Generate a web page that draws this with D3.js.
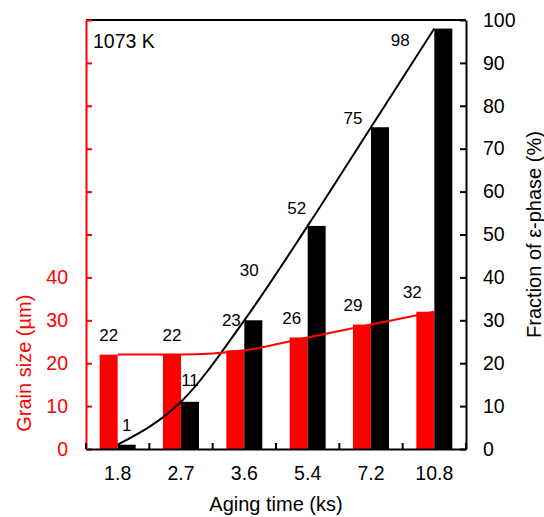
<!DOCTYPE html>
<html>
<head>
<meta charset="utf-8">
<script src="https://cdn.jsdelivr.net/npm/d3@7"></script>
<style>
  body { margin: 0; background: #fff; }
  svg { display: block; }
  text { font-family: "Liberation Sans", Arial, Helvetica, sans-serif; }
</style>
</head>
<body>
<svg id="chart" width="544" height="517"></svg>
<script>
// Aging time categories (ks)
const agingTimes = ["1.8", "2.7", "3.6", "5.4", "7.2", "10.8"];
// Grain size (µm), left axis
const grainSize = [22, 22, 23, 26, 29, 32];
// Fraction of ε-phase (%), right axis
const epsilonFraction = [1, 11, 30, 52, 75, 98];

// Axis ticks
const grainTicks = [0, 10, 20, 30, 40, 50, 60, 70, 80, 90, 100];
const grainTickLabels = [0, 10, 20, 30, 40];
const fractionTicks = [0, 10, 20, 30, 40, 50, 60, 70, 80, 90, 100];

// Label nudges [dx, dy] from bar centre / bar top, keeping labels clear of the curves
const grainLabelShift = [[0, -20], [0, -20], [-4, -30], [-7, -20], [-9, -20], [-13, -20]];
const fractionLabelShift = [[0, -20], [0, -22], [-4, -50], [-20, -18], [-27, -9], [-43, 11]];

const RED = "#ff0000";
const BLACK = "#000000";
const plot = { left: 86, right: 466, top: 20, bottom: 449 };

const svg = d3.select("#chart");

const x = d3.scaleBand().domain(agingTimes).range([plot.left, plot.right]);
const sub = d3.scaleBand().domain(["grain", "fraction"])
  .range([0, x.bandwidth()]).paddingInner(0).paddingOuter(0.76);
const y = d3.scaleLinear().domain([0, 100]).range([plot.bottom, plot.top]);

const center = d => x(d) + x.bandwidth() / 2;

const rows = agingTimes.map((t, i) => ({ t, g: grainSize[i], f: epsilonFraction[i], i }));

// Frame top
svg.append("line")
  .attr("x1", plot.left).attr("x2", plot.right)
  .attr("y1", plot.top).attr("y2", plot.top)
  .attr("stroke", BLACK).attr("stroke-width", 2);

// Bars
svg.append("g").selectAll("rect").data(rows).join("rect")
  .attr("x", d => x(d.t) + sub("grain"))
  .attr("width", sub.bandwidth())
  .attr("y", d => y(d.g))
  .attr("height", d => y(0) - y(d.g))
  .attr("fill", RED);

svg.append("g").selectAll("rect").data(rows).join("rect")
  .attr("x", d => x(d.t) + sub("fraction"))
  .attr("width", sub.bandwidth())
  .attr("y", d => y(d.f))
  .attr("height", d => y(0) - y(d.f))
  .attr("fill", BLACK);

// Trend curves
const fracLine = d3.line().x(d => center(d.t)).y(d => y(d.f)).curve(d3.curveMonotoneX);
const grainLine = d3.line().x(d => center(d.t)).y(d => y(d.g)).curve(d3.curveMonotoneX);

svg.append("path").datum(rows).attr("d", fracLine)
  .attr("fill", "none").attr("stroke", BLACK).attr("stroke-width", 2);
svg.append("path").datum(rows).attr("d", grainLine)
  .attr("fill", "none").attr("stroke", RED).attr("stroke-width", 2);

// Value labels
const labelSize = 17;
svg.append("g").selectAll("text").data(rows).join("text")
  .attr("x", d => x(d.t) + sub("grain") + sub.bandwidth() / 2 + grainLabelShift[d.i][0])
  .attr("y", d => y(d.g) + grainLabelShift[d.i][1])
  .attr("dy", "0.36em")
  .attr("text-anchor", "middle")
  .attr("font-size", labelSize)
  .attr("fill", BLACK)
  .text(d => d.g);

svg.append("g").selectAll("text").data(rows).join("text")
  .attr("x", d => x(d.t) + sub("fraction") + sub.bandwidth() / 2 + fractionLabelShift[d.i][0])
  .attr("y", d => y(d.f) + fractionLabelShift[d.i][1])
  .attr("dy", "0.36em")
  .attr("text-anchor", "middle")
  .attr("font-size", labelSize)
  .attr("fill", BLACK)
  .text(d => d.f);

// Temperature note
svg.append("text")
  .attr("x", plot.left + 7).attr("y", 41).attr("dy", "0.36em")
  .attr("font-size", 19.5).attr("fill", BLACK)
  .text("1073 K");

const tickFont = 19.5;

// Left axis: grain size
const leftAxis = svg.append("g")
  .attr("transform", `translate(${plot.left},0)`)
  .call(d3.axisLeft(y).tickValues(grainTicks)
    .tickSizeInner(-6).tickSizeOuter(0).tickPadding(18)
    .tickFormat(d => grainTickLabels.includes(d) ? d : ""));
leftAxis.selectAll("path, line").attr("stroke", RED).attr("stroke-width", 2);
leftAxis.selectAll("text").attr("fill", RED).attr("font-size", tickFont)
  .attr("font-family", null);

// Right axis: ε-phase fraction
const rightAxis = svg.append("g")
  .attr("transform", `translate(${plot.right},0)`)
  .call(d3.axisRight(y).tickValues(fractionTicks)
    .tickSizeInner(-6).tickSizeOuter(0).tickPadding(17));
rightAxis.selectAll("path, line").attr("stroke", BLACK).attr("stroke-width", 2);
rightAxis.selectAll("text").attr("fill", BLACK).attr("font-size", tickFont)
  .attr("font-family", null);

// Bottom axis: aging time
const bottomAxis = svg.append("g")
  .attr("transform", `translate(0,${plot.bottom})`)
  .call(d3.axisBottom(x).tickSize(0).tickPadding(17));
bottomAxis.select(".domain").attr("stroke", BLACK).attr("stroke-width", 2);
bottomAxis.selectAll("text").attr("fill", BLACK).attr("font-size", tickFont)
  .attr("font-family", null);

// Category separators on the bottom axis
const edges = agingTimes.map(t => x(t)).concat([x.range()[1]]);
svg.append("g").selectAll("line").data(edges).join("line")
  .attr("x1", d => d).attr("x2", d => d)
  .attr("y1", plot.bottom).attr("y2", plot.bottom - 6)
  .attr("stroke", BLACK).attr("stroke-width", 2);

// Axis titles
svg.append("text")
  .attr("transform", `translate(${(plot.left + plot.right) / 2},504)`)
  .attr("dy", "0.36em")
  .attr("text-anchor", "middle").attr("font-size", 20).attr("fill", BLACK)
  .text("Aging time (ks)");

svg.append("text")
  .attr("transform", `translate(24,${y(20)}) rotate(-90)`)
  .attr("dy", "0.36em")
  .attr("text-anchor", "middle").attr("font-size", 20).attr("fill", RED)
  .text("Grain size (µm)");

svg.append("text")
  .attr("transform", `translate(534,${y(50)}) rotate(-90)`)
  .attr("dy", "0.36em")
  .attr("text-anchor", "middle").attr("font-size", 20).attr("fill", BLACK)
  .text("Fraction of ε-phase (%)");
</script>
</body>
</html>
